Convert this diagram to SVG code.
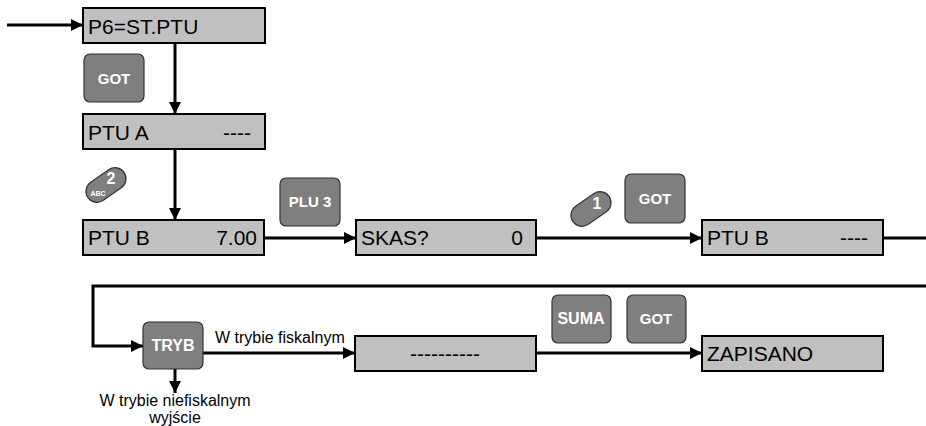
<svg xmlns="http://www.w3.org/2000/svg" width="926" height="426" viewBox="0 0 926 426">
<defs>
<style>
.box{fill:#c0c0c0;stroke:#000;stroke-width:2}
.key{fill:#7f7f7f;stroke:#333;stroke-width:1.2}
.bt{font-family:"Liberation Sans",Arial,sans-serif;font-size:21px;fill:#000}
.kt{font-family:"Liberation Sans",Arial,sans-serif;font-size:15px;font-weight:bold;fill:#fff}
.lt{font-family:"Liberation Sans",Arial,sans-serif;font-size:16px;fill:#000}
.c{fill:none;stroke:#000;stroke-width:3}
</style>
<marker id="ah" viewBox="0 0 12 12" refX="12" refY="6" markerWidth="12" markerHeight="12" markerUnits="userSpaceOnUse" orient="auto">
<path d="M0,0 L12,6 L0,12 Z" fill="#000"/>
</marker>
</defs>
<g id="connectors">
<path class="c" d="M7,25 H83" marker-end="url(#ah)"/>
<path class="c" d="M175,43 V114" marker-end="url(#ah)"/>
<path class="c" d="M175,149 V220" marker-end="url(#ah)"/>
<path class="c" d="M264,238 H356" marker-end="url(#ah)"/>
<path class="c" d="M536,238 H702" marker-end="url(#ah)"/>
<path class="c" d="M883,238 H926"/>
<path class="c" d="M926,286 H93 V346 H143" marker-end="url(#ah)"/>
<path class="c" d="M203,353 H355" marker-end="url(#ah)"/>
<path class="c" d="M175,369 V393" marker-end="url(#ah)"/>
<path class="c" d="M536,353 H702" marker-end="url(#ah)"/>
<text class="lt" x="215" y="343">W trybie fiskalnym</text>
<text class="lt" x="175" y="406" text-anchor="middle">W trybie niefiskalnym</text>
<text class="lt" x="175" y="423" text-anchor="middle">wyjście</text>
</g>
<g id="n-p6">
<rect class="box" x="83" y="8" width="182" height="35"/>
<text class="bt" x="88" y="34">P6=ST.PTU</text>
</g>
<g id="n-ptua">
<rect class="box" x="83" y="114" width="182" height="35"/>
<text class="bt" x="88" y="140">PTU A</text>
<text class="bt" x="251" y="140" text-anchor="end">----</text>
</g>
<g id="n-ptub1">
<rect class="box" x="83" y="220" width="181" height="35"/>
<text class="bt" x="88" y="245">PTU B</text>
<text class="bt" x="257" y="245" text-anchor="end">7.00</text>
</g>
<g id="n-skas">
<rect class="box" x="356" y="220" width="180" height="35"/>
<text class="bt" x="361" y="245">SKAS?</text>
<text class="bt" x="523" y="245" text-anchor="end">0</text>
</g>
<g id="n-ptub2">
<rect class="box" x="702" y="220" width="181" height="35"/>
<text class="bt" x="707" y="245">PTU B</text>
<text class="bt" x="868" y="245" text-anchor="end">----</text>
</g>
<g id="n-dash">
<rect class="box" x="355" y="336" width="181" height="35"/>
<text class="bt" x="445" y="361" text-anchor="middle">----------</text>
</g>
<g id="n-zapisano">
<rect class="box" x="702" y="336" width="181" height="35"/>
<text class="bt" x="707" y="361">ZAPISANO</text>
</g>
<g id="k-got1">
<rect class="key" x="84" y="54" width="60" height="48" rx="6"/>
<text class="kt" x="114" y="84" text-anchor="middle">GOT</text>
</g>
<g id="k-2">
<rect class="key" x="84" y="174" width="44" height="22" rx="11" transform="rotate(-35 106 185)"/>
<text class="kt" x="111" y="184" text-anchor="middle" style="font-size:16px">2</text>
<text class="kt" x="98" y="196" text-anchor="middle" style="font-size:7px">ABC</text>
</g>
<g id="k-plu3">
<rect class="key" x="280" y="178" width="60" height="48" rx="6"/>
<text class="kt" x="310" y="207" text-anchor="middle">PLU 3</text>
</g>
<g id="k-1">
<rect class="key" x="569" y="198" width="44" height="22" rx="11" transform="rotate(-35 591 209)"/>
<text class="kt" x="597" y="209" text-anchor="middle" style="font-size:16px">1</text>
</g>
<g id="k-got2">
<rect class="key" x="625" y="174" width="60" height="49" rx="6"/>
<text class="kt" x="655" y="204" text-anchor="middle">GOT</text>
</g>
<g id="k-tryb">
<rect class="key" x="143" y="322" width="60" height="47" rx="6"/>
<text class="kt" x="173" y="351" text-anchor="middle" style="font-size:16px">TRYB</text>
</g>
<g id="k-suma">
<rect class="key" x="552" y="295" width="59" height="48" rx="6"/>
<text class="kt" x="581" y="324" text-anchor="middle" style="font-size:16px">SUMA</text>
</g>
<g id="k-got3">
<rect class="key" x="627" y="295" width="59" height="48" rx="6"/>
<text class="kt" x="656" y="324" text-anchor="middle">GOT</text>
</g>
</svg>
